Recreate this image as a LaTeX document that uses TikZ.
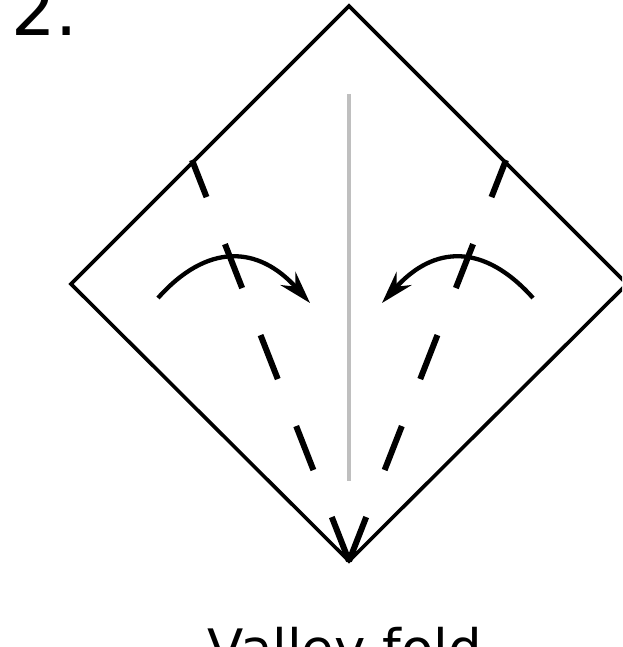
\documentclass[tikz,border=0pt]{standalone}
\usepackage{fontspec}
\setmainfont{DejaVu Sans}
\usetikzlibrary{arrows.meta}
\definecolor{creasegray}{RGB}{191,191,191}
\tikzset{
  paper/.style={line width=3.6pt, line join=miter, draw=black},
  valley/.style={line width=6pt, dash pattern=on 47.2pt off 50.5pt},
  midline/.style={line width=4.5pt, draw=creasegray},
  turn/.style={line width=4.3pt, -{Stealth[length=33pt, width=20pt, inset=11pt]}},
  label/.style={inner sep=0pt, outer sep=0pt},
}
\begin{document}
\begin{tikzpicture}[x=1pt, y=-1pt]
  \useasboundingbox (0,0) rectangle (622,647);
  \clip (0,0) rectangle (622,647);
  % corners of the paper
  \coordinate (top) at (349,6);
  \coordinate (left) at (71,284);
  \coordinate (right) at (627,284);
  \coordinate (bottom) at (349,561);
  \draw[paper] (top) -- (right) -- (bottom) -- (left) -- cycle;
  % centre crease
  \coordinate (midtop) at (349,94);
  \coordinate (midbot) at (349,481);
  \draw[midline] (midtop) -- (midbot);
  % valley folds
  \coordinate (lfold) at (192,160);
  \coordinate (rfold) at (506,160);
  \draw[valley] (bottom) -- (lfold);
  \draw[valley] (bottom) -- (rfold);
  % fold arrows
  \coordinate (lstart) at (158,298);
  \coordinate (ltip) at (310,303);
  \coordinate (rstart) at (533,298);
  \coordinate (rtip) at (382,303);
  \draw[turn] (lstart) .. controls (207,243) and (258,245) .. (ltip);
  \draw[turn] (rstart) .. controls (484,243) and (434,245) .. (rtip);
  % texts
  \node[label, anchor=base west, font=\fontsize{70}{80}\selectfont] (stepno) at (11,35.5) {2.};
  \node[label, anchor=base, font=\fontsize{53}{60}\selectfont] (caption) at (345,667) {Valley fold};
\end{tikzpicture}
\end{document}
